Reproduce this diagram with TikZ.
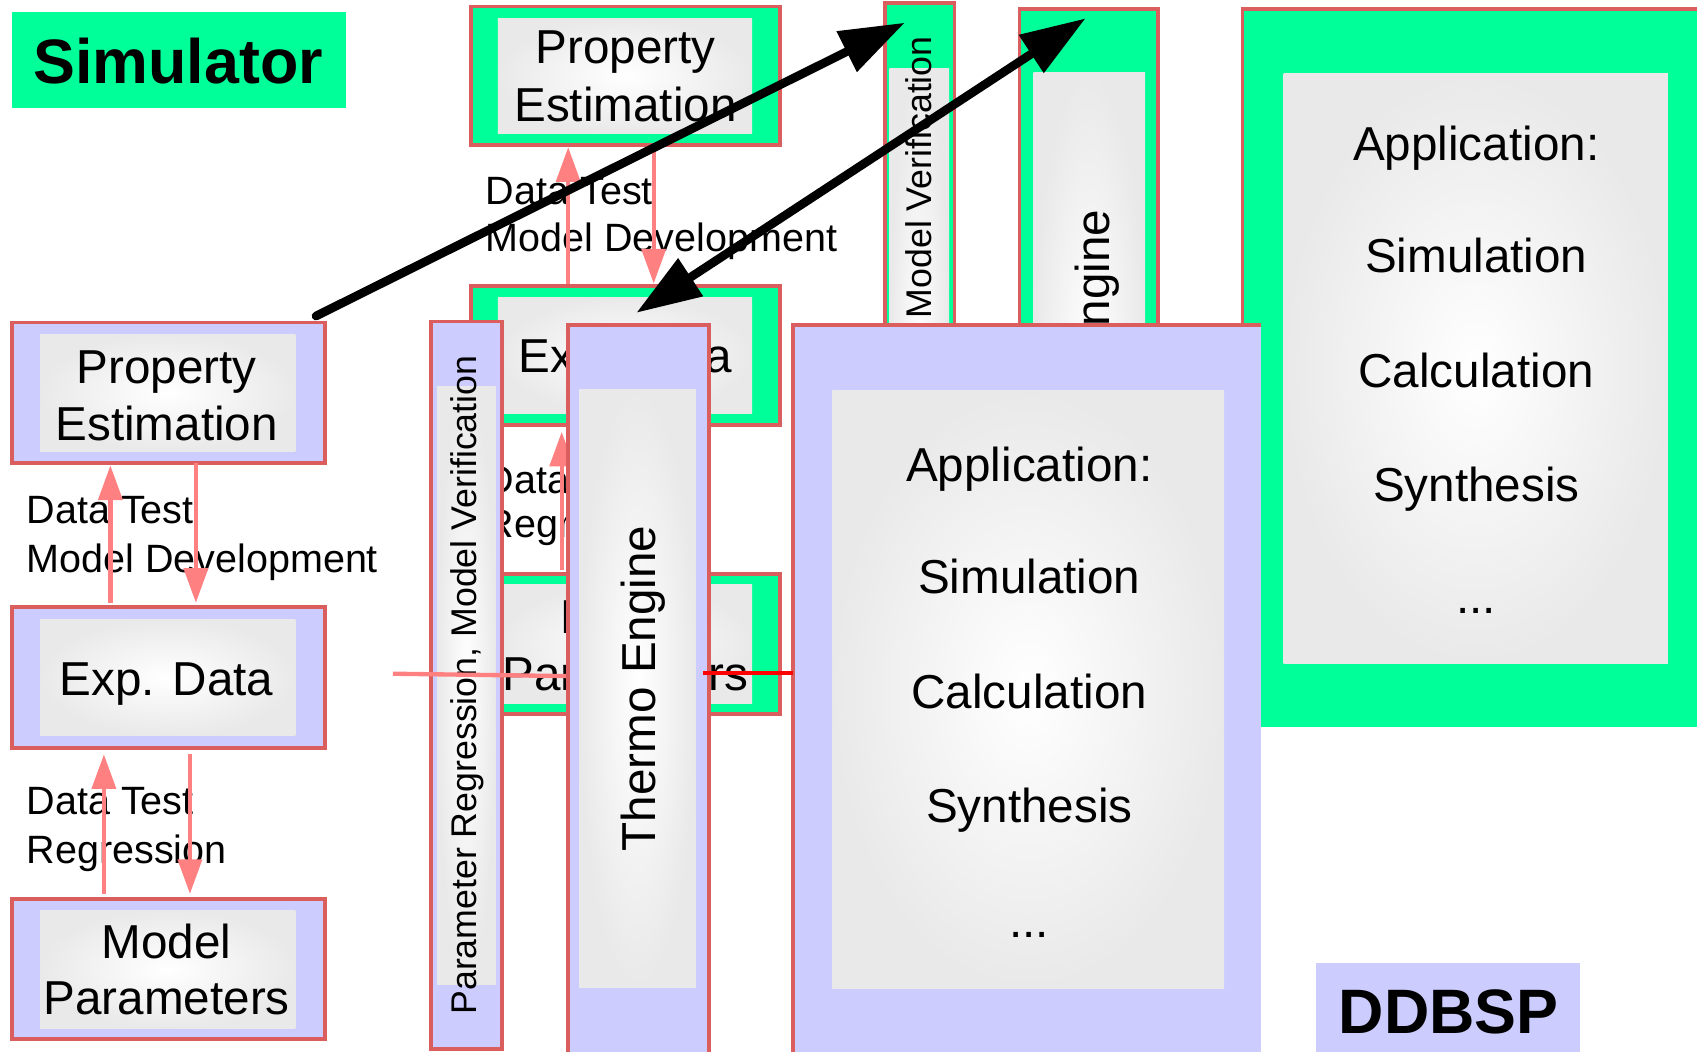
\documentclass[tikz,border=0pt]{standalone}
\usepackage{fontspec}
\setmainfont{Liberation Sans}
\usetikzlibrary{arrows.meta}
\definecolor{grn}{RGB}{0,255,153}
\definecolor{lav}{RGB}{204,204,255}
\definecolor{bord}{RGB}{219,94,94}
\definecolor{pinkar}{RGB}{255,128,128}
\definecolor{inedge}{RGB}{233,233,233}
\definecolor{brightred}{RGB}{255,0,0}
\tikzset{
  lavbox/.style={draw=bord, line width=3.5pt, fill=lav, inner sep=0pt, outer sep=0pt},
  grnbox/.style={draw=bord, line width=3.5pt, fill=grn, inner sep=0pt, outer sep=0pt},
  inbox/.style={inner color=white, outer color=inedge, inner sep=0pt, outer sep=0pt, draw=none},
  big/.style={font=\fontsize{44}{52}\selectfont, inner sep=0pt, anchor=base},
  coltext/.style={font=\fontsize{33}{39}\selectfont, inner sep=0pt, anchor=base, rotate=90},
  lbl/.style={font=\fontsize{36.5}{44}\selectfont, inner sep=0pt, anchor=base west},
  title/.style={font=\fontsize{58}{70}\selectfont\bfseries, inner sep=0pt, anchor=base west},
  pinkarrow/.style={draw=pinkar, line width=4pt, -{Triangle[width=22pt,length=32pt]}},
  blackarrow/.style={draw=black, line width=8pt, line cap=round},
}
\begin{document}
\begin{tikzpicture}[x=1pt,y=-1pt]
\useasboundingbox (0,0) rectangle (1568,972);
\clip (0,0) rectangle (1568,972);
\fill[white] (0,0) rectangle (1568,972);

% ---------------- green layer ----------------
% green application box
\node[fill=grn, inner sep=0pt, outer sep=0pt, minimum width=452pt, minimum height=664pt] (gapp) at (1374,340) {};
\draw[bord, line width=3.5pt] (gapp.south west) -- (gapp.north west) -- (gapp.north east);
\node[inbox, minimum width=355pt, minimum height=545pt] (gappi) at (1363.5,340.5) {};
\node[big] (ga1) at (1364,148) {Application:};
\node[big] (ga2) at (1364,252) {Simulation};
\node[big] (ga3) at (1364,358) {Calculation};
\node[big] (ga4) at (1364,463) {Synthesis};
\node[big] (ga5) at (1364,567) {...};

% green columns
\node[grnbox, minimum width=64pt, minimum height=670pt] (gmv) at (850,338) {};
\node[inbox, minimum width=55pt, minimum height=550pt] (gmvi) at (849.5,338) {};
\node[coltext] (gmvt) at (861,338) {Parameter Regression, Model Verification};

\node[grnbox, minimum width=128pt, minimum height=672pt] (gte) at (1006,344) {};
\node[inbox, minimum width=103pt, minimum height=553pt] (gtei) at (1006.5,343.5) {};
\node[big, rotate=90] (gtet) at (1025,344) {Thermo Engine};

% green boxes
\node[grnbox, minimum width=286pt, minimum height=128pt] (gpe) at (578,70) {};
\node[inbox, minimum width=235pt, minimum height=106pt] (gpei) at (577.5,70) {};
\node[big] (gpet1) at (578,59) {Property};
\node[big] (gpet2) at (578,112.4) {Estimation};

\node[grnbox, minimum width=286pt, minimum height=129pt] (ged) at (578,328.5) {};
\node[inbox, minimum width=235pt, minimum height=107pt] (gedi) at (577.5,328.5) {};
\node[big] (gedt) at (578,344.6) {Exp. Data};

\node[grnbox, minimum width=286pt, minimum height=130pt] (gmp) at (578,595) {};
\node[inbox, minimum width=235pt, minimum height=110pt] (gmpi) at (577.5,595) {};
\node[big] (gmpt1) at (578,585.6) {Model};
\node[big] (gmpt2) at (578,637.6) {Parameters};

\node[lbl] (gl1a) at (448.8,188.5) {Data Test};
\node[lbl] (gl1b) at (448.8,232.5) {Model Development};
\node[lbl] (gl2a) at (448.5,455.6) {Data Test};
\node[lbl] (gl2b) at (448.5,497) {Regression};

\draw[pinkarrow] ([shift={(-53,-2)}]ged.north) -- ([shift={(-53,2)}]gpe.south);
\draw[pinkarrow] ([shift={(26,0)}]gpe.south) -- ([shift={(26,-2)}]ged.north);
\draw[pinkarrow] ([shift={(-59,-3)}]gmp.north) -- ([shift={(-59,6)}]ged.south);
\draw[pinkarrow] ([shift={(20,4)}]ged.south) -- ([shift={(20,-3)}]gmp.north);

% Simulator label
\node[fill=grn, inner sep=0pt, outer sep=0pt, minimum width=308pt, minimum height=88pt] (simbg) at (165.5,55.5) {};
\node[title] (simt) at (30.7,77) {Simulator};

% ---------------- lavender layer ----------------
\node[lavbox, minimum width=289pt, minimum height=130pt] (pe) at (155.5,363) {};
\node[inbox, minimum width=236pt, minimum height=108pt] (pei) at (155,363) {};
\node[big] (pet1) at (154,354) {Property};
\node[big] (pet2) at (154,406.6) {Estimation};

\node[lavbox, minimum width=289pt, minimum height=130pt] (ed) at (155.5,626) {};
\node[inbox, minimum width=236pt, minimum height=108pt] (edi) at (155,626) {};
\node[big] (edt) at (154,642.5) {Exp. Data};

\node[lavbox, minimum width=289pt, minimum height=129pt] (mp) at (155.5,895.5) {};
\node[inbox, minimum width=236pt, minimum height=109pt] (mpi) at (155,895.5) {};
\node[big] (mpt1) at (154,885.5) {Model};
\node[big] (mpt2) at (154,937.5) {Parameters};

\node[lbl] (l1a) at (24.5,484) {Data Test};
\node[lbl] (l1b) at (24.5,529) {Model Development};
\node[lbl] (l2a) at (24.5,753) {Data Test};
\node[lbl] (l2b) at (24.5,798) {Regression};

\draw[pinkarrow] ([shift={(-53.5,-4)}]ed.north) -- ([shift={(-53.5,2)}]pe.south);
\draw[pinkarrow] ([shift={(25.5,0)}]pe.south) -- ([shift={(25.5,-4)}]ed.north);
\draw[pinkarrow] ([shift={(-59.5,-5)}]mp.north) -- ([shift={(-59.5,6)}]ed.south);
\draw[pinkarrow] ([shift={(20,6)}]ed.south) -- ([shift={(20,-5)}]mp.north);

% left column
\node[lavbox, minimum width=66pt, minimum height=672pt] (lv) at (431,633) {};
\node[inbox, minimum width=54pt, minimum height=553pt] (lvi) at (431,633.5) {};
\node[coltext] (lvt) at (440,633) {Parameter Regression, Model Verification};

% thin pink line
\coordinate (pl1) at (363,622.5);
\coordinate (pl2) at (524,624.7);
\draw[pinkar, line width=4pt] (pl1) -- (pl2);

% thermo engine column
\node[lavbox, minimum width=130pt, minimum height=700pt] (lte) at (590,650) {};
\node[inbox, minimum width=108pt, minimum height=552pt] (ltei) at (589,636) {};
\node[big, rotate=90] (ltet) at (606,636) {Thermo Engine};

% lavender application box
\node[fill=lav, inner sep=0pt, outer sep=0pt, minimum width=432pt, minimum height=700pt] (lapp) at (949,650) {};
\draw[bord, line width=3.5pt] (lapp.south west) -- (lapp.north west) -- (lapp.north east);
\node[inbox, minimum width=362pt, minimum height=552pt] (lappi) at (950,637) {};
\node[big] (la1) at (951,444.6) {Application:};
\node[big] (la2) at (951,548.4) {Simulation};
\node[big] (la3) at (951,654.7) {Calculation};
\node[big] (la4) at (951,760.3) {Synthesis};
\node[big] (la5) at (951,866) {...};

% red line
\coordinate (rl1) at (650,622);
\draw[brightred, line width=4pt] (rl1) -- (lapp.west |- rl1);

% DDBSP label
\node[fill=lav, inner sep=0pt, outer sep=0pt, minimum width=244pt, minimum height=100pt] (ddbg) at (1338,940) {};
\node[title] (ddt) at (1236.7,955.2) {DDBSP};

% ---------------- black arrows ----------------
\coordinate (b1s) at (292,292);
\coordinate (b1e) at (836,21);
\coordinate (b2s) at (588,289);
\coordinate (b2e) at (1003,17);
\draw[blackarrow, -{Triangle[width=40pt,length=60pt]}] (b1s) -- (b1e);
\draw[blackarrow, {Triangle[width=40pt,length=60pt]}-{Triangle[width=40pt,length=60pt]}] (b2s) -- (b2e);
\end{tikzpicture}
\end{document}
